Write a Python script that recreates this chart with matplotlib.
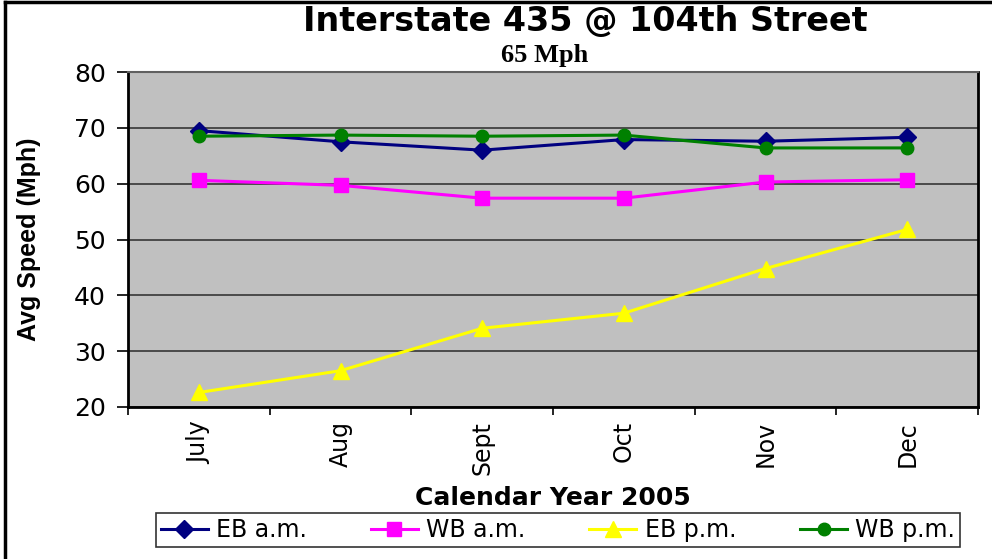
import matplotlib
matplotlib.use("Agg")
import matplotlib.pyplot as plt
from matplotlib.lines import Line2D
import numpy as np

# --- Datos ---
meses = ["July", "Aug", "Sept", "Oct", "Nov", "Dec"]
eb_am = [69.5, 67.5, 66.0, 67.9, 67.6, 68.3]
wb_am = [60.6, 59.7, 57.4, 57.4, 60.3, 60.7]
eb_pm = [22.6, 26.5, 34.1, 36.8, 44.8, 51.8]
wb_pm = [68.5, 68.7, 68.5, 68.7, 66.4, 66.4]

series = [
    ("EB a.m.", eb_am, "#000080", "D", 9),
    ("WB a.m.", wb_am, "#FF00FF", "s", 10),
    ("EB p.m.", eb_pm, "#FFFF00", "^", 11),
    ("WB p.m.", wb_pm, "#008000", "o", 9),
]

plt.rcParams['font.family'] = ['DejaVu Sans']

fig = plt.figure(figsize=(9.92, 5.59), dpi=100)
ax = fig.add_axes([128/992, 1 - 407/559, (978 - 128)/992, (407 - 72)/559])
ax.set_facecolor("#C0C0C0")

x = np.arange(len(meses))
for nombre, vals, color, marker, ms in series:
    ax.plot(x, vals, color=color, marker=marker, markersize=ms, linewidth=2.2,
            label=nombre, zorder=3)

# --- Ejes ---
ax.set_ylim(20, 80)
ax.set_yticks(np.arange(20, 81, 10))
ax.set_xlim(-0.5, len(meses) - 0.5)
ax.set_xticks(np.arange(-0.5, len(meses), 1.0))
ax.set_xticklabels([])
ax.set_xticks(x, minor=True)
ax.set_xticklabels(meses, minor=True, rotation=90, fontsize=17)
ax.tick_params(axis='x', which='minor', length=0, pad=10)
ax.tick_params(axis='x', which='major', length=6, width=1.2, direction='out')
ax.tick_params(axis='y', length=8, width=1.2, labelsize=18, pad=8)

ax.grid(True, axis='y', color="#4a4a4a", linewidth=1.4, zorder=1)
ax.set_axisbelow(True)
for lado in ["left", "bottom"]:
    ax.spines[lado].set_color("black")
    ax.spines[lado].set_linewidth(2)
ax.spines["top"].set_color("#606060")
ax.spines["top"].set_linewidth(1.5)
ax.spines["right"].set_color("black")
ax.spines["right"].set_linewidth(2)

ax.set_ylabel("Avg Speed (Mph)", fontsize=18, fontweight='bold',
              family='Liberation Sans', labelpad=24)
ax.set_xlabel("Calendar Year 2005", fontsize=18, fontweight='bold', labelpad=8)

# --- Titulos ---
fig.text(0.59, 0.962, "Interstate 435 @ 104th Street", ha='center', va='center',
         fontsize=24, fontweight='bold')
fig.text(0.549, 0.9, "65 Mph", ha='center', va='center', fontsize=19,
         fontweight='bold', family='Liberation Serif')

# --- Leyenda ---
leg = fig.legend(loc='center', bbox_to_anchor=(558/992, 1 - 530/559), ncol=4,
                 fontsize=17, frameon=True, fancybox=False, handlelength=2.0,
                 handletextpad=0.35, columnspacing=2.7, borderpad=0.2)
leg.get_frame().set_edgecolor("black")
leg.get_frame().set_linewidth(1.2)

# --- Borde de la figura (izquierda y arriba) ---
fig.add_artist(Line2D([5/992, 5/992], [0, 1 - 2/559], color='black', lw=2.5,
                      transform=fig.transFigure))
fig.add_artist(Line2D([5/992, 1], [1 - 2/559, 1 - 2/559], color='black', lw=2.5,
                      transform=fig.transFigure))

fig.savefig("out.png", dpi=100)
